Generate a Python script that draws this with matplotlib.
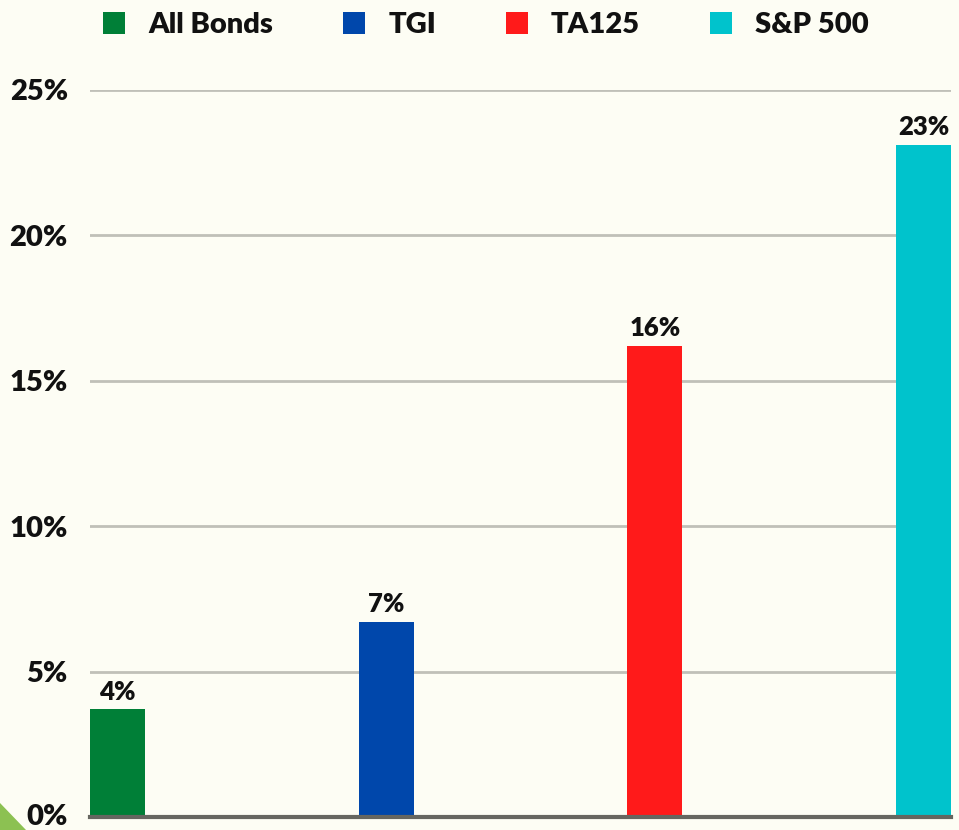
import matplotlib
matplotlib.use("Agg")
import matplotlib.pyplot as plt
import matplotlib.transforms as mtransforms
from matplotlib.patches import Patch, Polygon

series = ["All Bonds", "TGI", "TA125", "S&P 500"]
values = [3.7, 6.7, 16.2, 23.1]
labels = ["4%", "7%", "16%", "23%"]
colors = ["#007f37", "#0047ab", "#ff1a1a", "#00c3cc"]
yticks = [0, 5, 10, 15, 20, 25]
ytick_labels = ["0%", "5%", "10%", "15%", "20%", "25%"]

BG = "#fdfdf4"
WEIGHT = 'heavy'
plt.rcParams['font.family'] = ['Lato', 'DejaVu Sans']
plt.rcParams['font.weight'] = WEIGHT

W, H = 959, 830
fig = plt.figure(figsize=(W / 100, H / 100), dpi=100, facecolor=BG)
ax = fig.add_axes([90 / W, 1 - 817 / H, (951 - 90) / W, (817 - 90) / H])
ax.set_facecolor(BG)

bw = 55 / 269
x = list(range(len(series)))
bars = ax.bar(x, values, width=bw, color=colors, zorder=3)
for xi, v, lab in zip(x, values, labels):
    ax.text(xi, v + 0.2, lab, ha='center', va='bottom', fontsize=18.5, fontweight=WEIGHT, color='#111111')

ax.set_xlim(-bw / 2, 3 + bw / 2)
ax.set_ylim(0, 25)
ax.set_yticks(yticks)
ax.set_yticklabels(ytick_labels, fontsize=21, fontweight=WEIGHT, color='#111111')
ax.tick_params(axis='y', length=0, pad=16)
ax.set_xticks([])
ax.grid(axis='y', color='#c0c0b8', linewidth=2, zorder=0)
for s in ['left', 'right', 'top']:
    ax.spines[s].set_visible(False)
ax.spines['bottom'].set_color('#666660')
ax.spines['bottom'].set_linewidth(3)
ax.spines['bottom'].set_zorder(4)

# nudge the 0% label up slightly so it stays inside the figure
lab0 = ax.get_yticklabels()[0]
lab0.set_transform(lab0.get_transform() + mtransforms.ScaledTranslation(0, 3 / 100, fig.dpi_scale_trans))

handles = [Patch(facecolor=c, edgecolor='none', label=s) for c, s in zip(colors, series)]
leg = fig.legend(handles=handles, loc='center', bbox_to_anchor=(486 / W, 1 - 25 / H), ncol=4,
                 frameon=False, fontsize=21, handlelength=0.75, handleheight=0.75,
                 handletextpad=0.8, columnspacing=2.4, borderaxespad=0)
for t in leg.get_texts():
    t.set_fontweight(WEIGHT)
    t.set_color('#111111')

tri = Polygon([[0, 1 - 803 / H], [26 / W, 0], [0, 0]], closed=True, transform=fig.transFigure,
              facecolor='#8cc152', edgecolor='none')
fig.patches.append(tri)

fig.savefig("out.png", dpi=100, facecolor=BG)
